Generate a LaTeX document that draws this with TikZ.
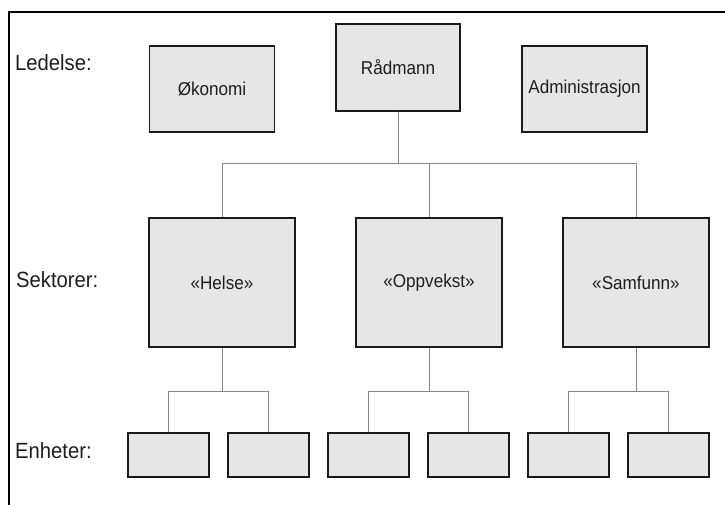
\documentclass[tikz,border=0pt]{standalone}
\usepackage{fontspec}
\setmainfont{Liberation Sans}[FakeStretch=0.92]
\definecolor{boxfill}{HTML}{E6E6E6}
\definecolor{boxline}{HTML}{1A1A1A}
\definecolor{connline}{HTML}{858585}
\definecolor{txt}{HTML}{1E1E1E}
\tikzset{
  box/.style={draw=boxline, fill=boxfill, line width=1.5pt, rectangle, inner sep=0pt,
    text=txt, font=\fontsize{18.6}{21}\selectfont},
  topbox/.style={box, minimum width=125pt, minimum height=86pt},
  secbox/.style={box, minimum width=146pt, minimum height=129pt},
  unitbox/.style={box, minimum width=81pt, minimum height=44pt},
  conn/.style={draw=connline, line width=1pt},
  levellabel/.style={anchor=west, inner sep=0pt, text=txt, font=\fontsize{22}{26}\selectfont},
  frameline/.style={draw=black, line width=2pt}
}
\begin{document}
\begin{tikzpicture}[x=1pt,y=-1pt]
\useasboundingbox (0,0) rectangle (725,505);
\draw[frameline] (9,506) -- (9,12) -- (726,12);

% level labels
\node[levellabel] (lled) at (15,63) {Ledelse:};
\node[levellabel] (lsek) at (16,279.5) {Sektorer:};
\node[levellabel] (lenh) at (15,451) {Enheter:};

% top level
\node[topbox] (oko) at (212,89) {Økonomi};
\node[topbox, minimum width=124pt, minimum height=87pt] (rad) at (398,67.5) {Rådmann};
\node[topbox] (adm) at (584.5,89) {Administrasjon};

% sectors
\node[secbox] (helse) at (222,282.5) {«Helse»};
\node[secbox] (oppv) at (429,282.5) {«Oppvekst»};
\node[secbox] (samf) at (636,282.5) {«Samfunn»};

% units
\node[unitbox] (u1) at (168.5,455) {};
\node[unitbox] (u2) at (268.5,455) {};
\node[unitbox] (u3) at (368.5,455) {};
\node[unitbox] (u4) at (468.5,455) {};
\node[unitbox] (u5) at (568.5,455) {};
\node[unitbox] (u6) at (668.5,455) {};

% bus coordinates
\coordinate (topbus) at (398,164);
\coordinate (unitbus) at (0,391);

% connectors top -> sectors
\draw[conn] (rad.south) -- (topbus);
\draw[conn] (helse.north) |- (samf.north |- topbus) -- (samf.north);
\draw[conn] (oppv.north) -- (oppv.north |- topbus);

% connectors sectors -> units
\draw[conn] (helse.south) -- (helse.south |- unitbus);
\draw[conn] (u1.north) |- (u2.north |- unitbus) -- (u2.north);
\draw[conn] (oppv.south) -- (oppv.south |- unitbus);
\draw[conn] (u3.north) |- (u4.north |- unitbus) -- (u4.north);
\draw[conn] (samf.south) -- (samf.south |- unitbus);
\draw[conn] (u5.north) |- (u6.north |- unitbus) -- (u6.north);
\end{tikzpicture}
\end{document}
